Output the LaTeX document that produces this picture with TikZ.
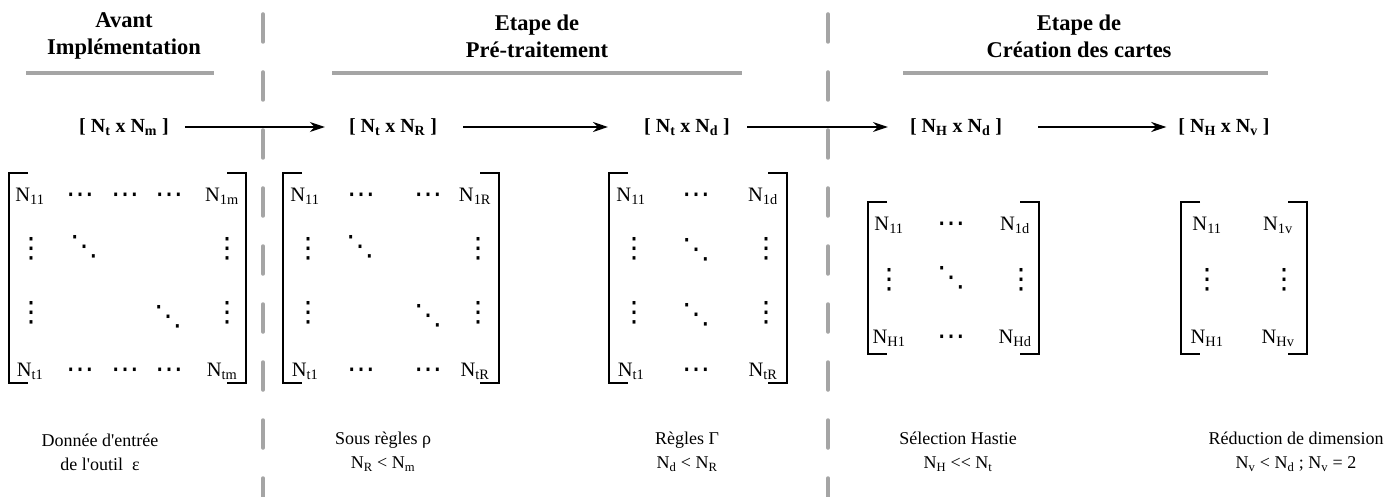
\documentclass[tikz,border=0pt]{standalone}
\usepackage{fontspec}
\setmainfont{Liberation Serif}
\newfontfamily\dotsfam{DejaVu Sans}
\usetikzlibrary{arrows.meta}
\definecolor{sepgray}{RGB}{165,165,165}
\newcommand\sbs[1]{\textsubscript{#1}}
\newcommand\apos{\textquotesingle}
\tikzset{
  sepline/.style={line width=3.5pt, draw=sepgray, dash pattern=on 28pt off 30pt, line cap=round},
  bar/.style={line width=3.5pt, draw=sepgray},
  title/.style={font=\fontsize{22.5}{27}\selectfont\bfseries, align=center, inner sep=0pt},
  dim/.style={font=\fontsize{20}{22}\selectfont\bfseries, inner sep=0pt},
  cell/.style={font=\fontsize{20.5}{22}\selectfont, inner sep=0pt, anchor=base},
  dotc/.style={font=\dotsfam\fontsize{28}{28}\selectfont, inner sep=0pt, anchor=center},
  doth/.style={font=\dotsfam\fontsize{28}{28}\selectfont, inner sep=0pt, anchor=base},
  note/.style={font=\fontsize{18}{24}\selectfont, align=center, inner sep=0pt},
  flow/.style={-{Stealth[length=15pt,width=10pt]}, line width=1.3pt},
  brk/.style={line width=2pt}
}
\newcommand\mbrack[4]{%
  \draw[brk] (#1+19,#3) -- (#1,#3) -- (#1,#4) -- (#1+19,#4);
  \draw[brk] (#2-19,#3) -- (#2,#3) -- (#2,#4) -- (#2-19,#4);}
\begin{document}
\begin{tikzpicture}[x=1pt,y=-1pt]
\useasboundingbox (0,0) rectangle (1388,497);
% separators
\draw[sepline] (263,14) -- (263,497);
\draw[sepline] (828,14) -- (828,497);
% titles
\node[title] (t1) at (124,36) {Avant\\Implémentation};
\node[title] (t2) at (537,36) {Etape de\\Pré-traitement};
\node[title] (t3) at (1079,36) {Etape de\\Création des cartes};
\draw[bar] (26,73) -- (214,73);
\draw[bar] (332,73) -- (742,73);
\draw[bar] (903,73) -- (1268,73);
% dimension labels
\node[dim] (d1) at (124,127) {[ N\sbs{t} x N\sbs{m} ]};
\node[dim] (d2) at (393,127) {[ N\sbs{t} x N\sbs{R} ]};
\node[dim] (d3) at (687,127) {[ N\sbs{t} x N\sbs{d} ]};
\node[dim] (d4) at (956,127) {[ N\sbs{H} x N\sbs{d} ]};
\node[dim] (d5) at (1224,127) {[ N\sbs{H} x N\sbs{v} ]};
\draw[flow] ([xshift=16pt]d1.east) -- ([xshift=-24pt]d2.west);
\draw[flow] ([xshift=26pt]d2.east) -- ([xshift=-36pt]d3.west);
\draw[flow] ([xshift=17pt]d3.east) -- ([xshift=-22pt]d4.west);
\draw[flow] ([xshift=36pt]d4.east) -- ([xshift=-12pt]d5.west);
% matrix 1
\mbrack{9}{246}{173}{383}
\node[cell] (a11) at (30,201) {N\sbs{11}};
\node[doth] (a12) at (80,203) {⋯};
\node[doth] (a13) at (125,203) {⋯};
\node[doth] (a14) at (169,203) {⋯};
\node[cell] (a15) at (222,201) {N\sbs{1m}};
\node[dotc] (a21) at (31,249) {⋮};
\node[dotc] (a22) at (84,247) {⋱};
\node[dotc] (a25) at (227,249) {⋮};
\node[dotc] (a31) at (31,313) {⋮};
\node[dotc] (a34) at (168,317) {⋱};
\node[dotc] (a35) at (227,313) {⋮};
\node[cell] (a41) at (30,376) {N\sbs{t1}};
\node[doth] (a42) at (80,378) {⋯};
\node[doth] (a43) at (125,378) {⋯};
\node[doth] (a44) at (169,378) {⋯};
\node[cell] (a45) at (222,376) {N\sbs{tm}};
% matrix 2
\mbrack{283}{499}{173}{383}
\node[cell] (b11) at (305,201) {N\sbs{11}};
\node[doth] (b12) at (361,203) {⋯};
\node[doth] (b13) at (428,203) {⋯};
\node[cell] (b14) at (475,201) {N\sbs{1R}};
\node[dotc] (b21) at (308,249) {⋮};
\node[dotc] (b22) at (360,247) {⋱};
\node[dotc] (b24) at (478,249) {⋮};
\node[dotc] (b31) at (308,313) {⋮};
\node[dotc] (b33) at (428,316) {⋱};
\node[dotc] (b34) at (478,313) {⋮};
\node[cell] (b41) at (305,376) {N\sbs{t1}};
\node[doth] (b42) at (361,378) {⋯};
\node[doth] (b43) at (428,378) {⋯};
\node[cell] (b44) at (475,376) {N\sbs{tR}};
% matrix 3
\mbrack{609}{787}{173}{383}
\node[cell] (c11) at (631,201) {N\sbs{11}};
\node[doth] (c12) at (696,203) {⋯};
\node[cell] (c13) at (763,201) {N\sbs{1d}};
\node[dotc] (c21) at (634,249) {⋮};
\node[dotc] (c22) at (696,250) {⋱};
\node[dotc] (c23) at (766,249) {⋮};
\node[dotc] (c31) at (634,313) {⋮};
\node[dotc] (c32) at (696,315) {⋱};
\node[dotc] (c33) at (766,313) {⋮};
\node[cell] (c41) at (631,376) {N\sbs{t1}};
\node[doth] (c42) at (696,378) {⋯};
\node[cell] (c43) at (763,376) {N\sbs{tR}};
% matrix 4
\mbrack{868}{1039}{202}{354}
\node[cell] (e11) at (889,230) {N\sbs{11}};
\node[doth] (e12) at (951,232) {⋯};
\node[cell] (e13) at (1015,230) {N\sbs{1d}};
\node[dotc] (e21) at (889,280) {⋮};
\node[dotc] (e22) at (951,278) {⋱};
\node[dotc] (e23) at (1021,280) {⋮};
\node[cell] (e31) at (889,343) {N\sbs{H1}};
\node[doth] (e32) at (951,345) {⋯};
\node[cell] (e33) at (1015,343) {N\sbs{Hd}};
% matrix 5
\mbrack{1181}{1307}{202}{354}
\node[cell] (f11) at (1207,230) {N\sbs{11}};
\node[cell] (f12) at (1278,230) {N\sbs{1v}};
\node[dotc] (f21) at (1207,280) {⋮};
\node[dotc] (f22) at (1284,280) {⋮};
\node[cell] (f31) at (1207,343) {N\sbs{H1}};
\node[cell] (f32) at (1278,343) {N\sbs{Hv}};
% notes
\node[note] (n1) at (100,452) {Donnée d\apos entrée\\de l\apos outil\ \ ε};
\node[note] (n2) at (383,452) {Sous règles ρ\\N\sbs{R} < N\sbs{m}};
\node[note] (n3) at (687,452) {Règles Γ\\N\sbs{d} < N\sbs{R}};
\node[note] (n4) at (958,452) {Sélection Hastie\\N\sbs{H} <{}< N\sbs{t}};
\node[note] (n5) at (1296,452) {Réduction de dimension\\N\sbs{v} < N\sbs{d} ; N\sbs{v} = 2};
\end{tikzpicture}
\end{document}
